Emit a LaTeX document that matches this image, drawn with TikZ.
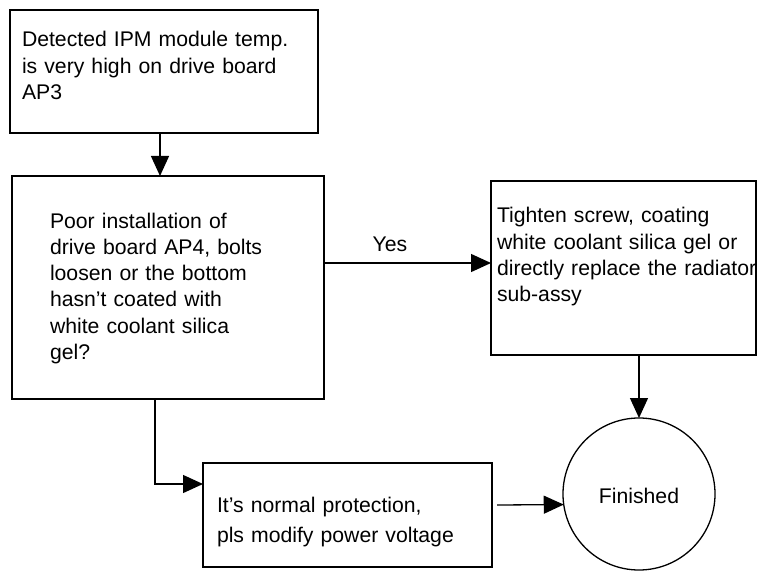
\documentclass[tikz,border=0pt]{standalone}
\usepackage{fontspec}
\setmainfont{Liberation Sans}
\usetikzlibrary{arrows.meta,calc}
\begin{document}
\begin{tikzpicture}[x=1bp,y=-1bp,
  box/.style={draw, line width=1.3bp, inner sep=0pt, outer sep=0pt, anchor=north west},
  txt/.style={inner sep=0pt, outer sep=0pt, anchor=base west, text width=300bp, align=left,
    font=\fontsize{21.2bp}{26.3bp}\selectfont},
  conn/.style={line width=1.3bp, -{Triangle[length=20bp,width=18bp]}},
  line/.style={line width=1.3bp}]
\useasboundingbox (0,0) rectangle (757,571);
% boxes
\node[box, minimum width=308bp, minimum height=123bp] (b1) at (10,10) {};
\node[box, line width=2bp, minimum width=312bp, minimum height=223bp] (b2) at (12,176) {};
\node[box, minimum width=265bp, minimum height=174bp] (b3) at (491,181) {};
\node[box, minimum width=289bp, minimum height=104bp] (b4) at (203,463) {};
\node[draw, line width=1.3bp, circle, minimum size=152bp, inner sep=0pt, outer sep=0pt] (circ) at (639,494) {};
% texts
\node[txt] (t1) at (22,47) {Detected IPM module temp.\\is very high on drive board\\AP3};
\node[txt] (t2) at (50,228) {Poor installation of\\drive board AP4, bolts\\loosen or the bottom\\hasn’t coated with\\white coolant silica\\gel?};
\node[txt] (t3) at (497,223) {Tighten screw, coating\\white coolant silica gel or\\directly replace the radiator\\sub-assy};
\node[txt, font=\fontsize{21.2bp}{30bp}\selectfont] (t4) at (217,512) {It’s normal protection,\\pls modify power voltage};
\node[inner sep=0pt, anchor=base, font=\fontsize{21.2bp}{24bp}\selectfont] (tc) at (639,503) {Finished};
\node[inner sep=0pt, anchor=base, font=\fontsize{21.2bp}{24bp}\selectfont] (yes) at (390,251) {Yes};
% connectors
\coordinate (y1) at (324,263);
\coordinate (y2) at (491,263);
\coordinate (d1) at (155,399);
\coordinate (d2) at (155,484);
\coordinate (d3) at (203,484);
\coordinate (f1) at (497,505);
\draw[conn] (b1.south -| 160,0) -- (b2.north -| 160,0);
\draw[conn] (y1) -- (y2);
\draw[conn] (circ.north |- b3.south) -- (circ.north);
\draw[conn] (d1) -- (d2) -- (d3);
\draw[conn] (f1) -- (circ.188);
\end{tikzpicture}
\end{document}
